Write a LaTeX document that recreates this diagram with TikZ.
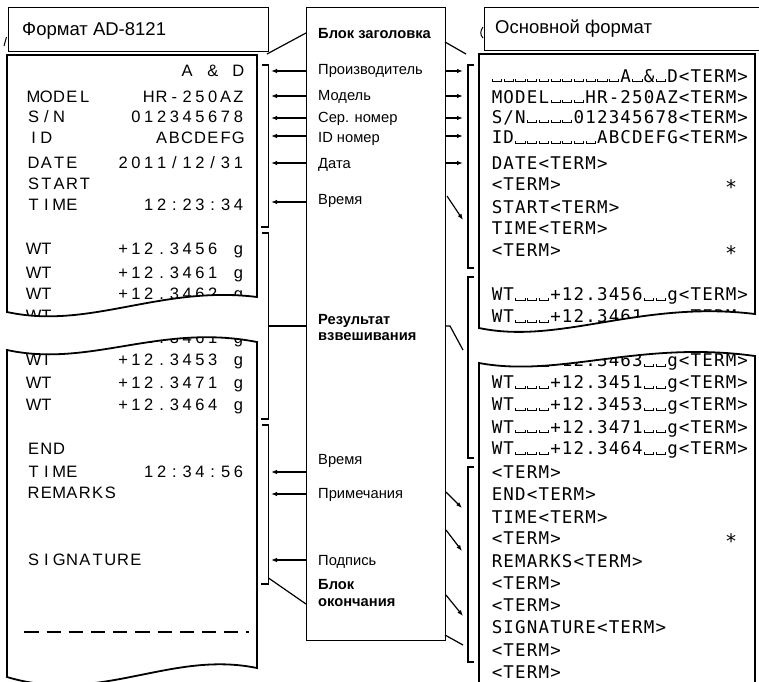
\documentclass[tikz,border=0pt]{standalone}
\usepackage{fontspec}
\setmainfont{Liberation Sans}
\newfontfamily\rmono{DejaVu Sans Mono}
\usetikzlibrary{arrows.meta}
\newdimen\cw
\def\cellstop{CELLSTOP}
\def\cells#1{\cellloop#1\cellstop}
\def\cellloop#1{\ifx#1\cellstop\else\onecell#1\expandafter\cellloop\fi}
\def\onecell#1{\ifx#1!\hbox to\cw{\hfil}\else\ifx#1_\spmark\else\hbox to\cw{\hss#1\hss}\fi\fi}
\def\spmark{\hbox to\cw{\hss\vrule width .8pt height 3pt depth 0pt\vrule width 8.4pt height .8pt depth 0pt\vrule width .8pt height 3pt depth 0pt\hss}}
\def\bigast{\raisebox{-4.4pt}{\fontsize{20}{20}\selectfont*}}
\newcommand\Lrow[1]{\cw=12.8pt\cells{#1}}
\newcommand\Rrow[1]{\cw=11.7pt\cells{#1}}
\begin{document}
\begin{tikzpicture}[x=1pt,y=-1pt,
  box/.style={draw, line width=1.3pt, inner sep=0, anchor=north west},
  paper/.style={line width=1.8pt, line join=miter},
  brk/.style={line width=1.8pt},
  conn/.style={line width=1.2pt},
  arr/.style={line width=1.2pt, -{Latex[length=6pt,width=4.5pt]}},
  lbl/.style={anchor=base west, inner sep=0, font=\fontsize{14.7}{17}\selectfont},
  blbl/.style={anchor=base west, inner sep=0, font=\fontsize{14.7}{17}\selectfont\bfseries},
  ltxt/.style={anchor=base west, inner sep=0, font=\fontsize{16.5}{16.5}\selectfont},
  rtxt/.style={anchor=base west, inner sep=0, font=\rmono\fontsize{17.5}{17.5}\selectfont},
  ttl/.style={anchor=base west, inner sep=0, font=\fontsize{18.5}{20}\selectfont}]
\useasboundingbox (0,0) rectangle (759,681);

% title boxes
\node[box, minimum width=260pt, minimum height=44pt] (tL) at (8,7) {};
\node[ttl] (tLt) at (22,35.5) {Формат AD-8121};
\node[box, minimum width=280pt, minimum height=43pt] (tR) at (484,7) {};
\node[ttl] (tRt) at (495,33.5) {Основной формат};
\draw[line width=1pt] (4,46) -- (6.5,37);
\draw[line width=1pt] (483,27) .. controls (480,31) and (480,35) .. (483,38);

% middle box
\node[box, minimum width=139pt, minimum height=633pt] (mid) at (306,7) {};
\node[blbl] (m1) at (318,38) {Блок заголовка};
\node[lbl] (m2) at (318,74.5) {Производитель};
\node[lbl] (m3) at (318,100.5) {Модель};
\node[lbl] (m4) at (318,122.5) {Сер. номер};
\node[lbl] (m5) at (318,142.5) {ID номер};
\node[lbl] (m6) at (318,168.5) {Дата};
\node[lbl] (m7) at (318,204.5) {Время};
\node[blbl] (m8) at (318,324.5) {Результат};
\node[blbl] (m9) at (318,340.5) {взвешивания};
\node[lbl] (m10) at (318,464.5) {Время};
\node[lbl] (m11) at (318,498.5) {Примечания};
\node[lbl] (m12) at (318,565.5) {Подпись};
\node[blbl] (m13) at (318,589.5) {Блок};
\node[blbl] (m14) at (318,606.5) {окончания};

% left paper
\draw[paper] (7,55) -- (257,55) -- (257,297) .. controls (160,285) and (90,330) .. (7,312) -- cycle;
\draw[paper] (7,350) .. controls (90,368) and (160,323) .. (257,342) -- (257,668) .. controls (170,650) and (100,705) .. (7,677) -- cycle;
\begin{scope}
\clip (7,55) -- (257,55) -- (257,297) .. controls (160,285) and (90,330) .. (7,312) -- cycle;
\node[ltxt] (l1) at (27,76.7) {\Lrow{!!!!!!!!!!!!A!\&!D}};
\node[ltxt] (l2) at (27,102.5) {\Lrow{MODEL!!!!HR-250AZ}};
\node[ltxt] (l3) at (27,122.5) {\Lrow{S/N!!!!!012345678}};
\node[ltxt] (l4) at (27,143.7) {\Lrow{ID!!!!!!!!ABCDEFG}};
\node[ltxt] (l5) at (27,168.5) {\Lrow{DATE!!!2011/12/31}};
\node[ltxt] (l6) at (27,189) {\Lrow{START}};
\node[ltxt] (l7) at (27,210.7) {\Lrow{TIME!!!!!12:23:34}};
\node[ltxt] (l8) at (27,254) {\Lrow{WT!!!!!+12.3456!g}};
\node[ltxt] (l9) at (27,278.4) {\Lrow{WT!!!!!+12.3461!g}};
\node[ltxt] (l10) at (27,299) {\Lrow{WT!!!!!+12.3462!g}};
\node[ltxt] (l11) at (27,321) {\Lrow{WT}};
\end{scope}
\begin{scope}
\clip (7,350) .. controls (90,368) and (160,323) .. (257,342) -- (257,668) .. controls (170,650) and (100,705) .. (7,677) -- cycle;
\node[ltxt] (l12) at (27,343.7) {\Lrow{WT!!!!!+12.3461!g}};
\node[ltxt] (l13) at (27,365.7) {\Lrow{WT!!!!!+12.3453!g}};
\node[ltxt] (l14) at (27,388.7) {\Lrow{WT!!!!!+12.3471!g}};
\node[ltxt] (l15) at (27,410.7) {\Lrow{WT!!!!!+12.3464!g}};
\node[ltxt] (l16) at (27,454.7) {\Lrow{END}};
\node[ltxt] (l17) at (27,477.7) {\Lrow{TIME!!!!!12:34:56}};
\node[ltxt] (l18) at (27,498.7) {\Lrow{REMARKS}};
\node[ltxt] (l19) at (27,565.7) {\Lrow{SIGNATURE}};
\end{scope}
\draw[line width=1.3pt, dash pattern=on 14.3pt off 7.9pt] (24.3,632) -- (248.5,632);

% right paper
\draw[paper] (479,54) -- (755,54) -- (755,314) .. controls (640,300) and (560,345) .. (479,328) -- cycle;
\draw[paper] (479,363) .. controls (560,378) and (640,340) .. (755,356) -- (755,695) -- (479,695) -- cycle;
\begin{scope}
\clip (479,54) -- (755,54) -- (755,314) .. controls (640,300) and (560,345) .. (479,328) -- cycle;
\node[rtxt] (r1) at (491,82) {\Rrow{___________A_\&_D<TERM>}};
\node[rtxt] (r2) at (491,103) {\Rrow{MODEL___HR-250AZ<TERM>}};
\node[rtxt] (r3) at (491,123) {\Rrow{S/N____012345678<TERM>}};
\node[rtxt] (r4) at (491,143.5) {\Rrow{ID_______ABCDEFG<TERM>}};
\node[rtxt] (r5) at (491,169) {\Rrow{DATE<TERM>}};
\node[rtxt] (r6) at (491,190.5) {\Rrow{<TERM>!!!!!!!!!!!!!!\bigast}};
\node[rtxt] (r7) at (491,213) {\Rrow{START<TERM>}};
\node[rtxt] (r8) at (491,234.5) {\Rrow{TIME<TERM>}};
\node[rtxt] (r9) at (491,256.5) {\Rrow{<TERM>!!!!!!!!!!!!!!\bigast}};
\node[rtxt] (r10) at (491,300.5) {\Rrow{WT___+12.3456__g<TERM>}};
\node[rtxt] (r11) at (491,322.5) {\Rrow{WT___+12.3461__g<TERM>}};
\node[rtxt] (r12) at (491,344.5) {\Rrow{WT___+12.3462__g<TERM>}};
\end{scope}
\begin{scope}
\clip (479,363) .. controls (560,378) and (640,340) .. (755,356) -- (755,695) -- (479,695) -- cycle;
\node[rtxt] (r13) at (491,366.5) {\Rrow{WT___+12.3463__g<TERM>}};
\node[rtxt] (r14) at (491,388.5) {\Rrow{WT___+12.3451__g<TERM>}};
\node[rtxt] (r15) at (491,410.5) {\Rrow{WT___+12.3453__g<TERM>}};
\node[rtxt] (r16) at (491,433) {\Rrow{WT___+12.3471__g<TERM>}};
\node[rtxt] (r17) at (491,454.5) {\Rrow{WT___+12.3464__g<TERM>}};
\node[rtxt] (r18) at (491,478) {\Rrow{<TERM>}};
\node[rtxt] (r19) at (491,500) {\Rrow{END<TERM>}};
\node[rtxt] (r20) at (491,523) {\Rrow{TIME<TERM>}};
\node[rtxt] (r21) at (491,544.5) {\Rrow{<TERM>!!!!!!!!!!!!!!\bigast}};
\node[rtxt] (r22) at (491,567) {\Rrow{REMARKS<TERM>}};
\node[rtxt] (r23) at (491,589) {\Rrow{<TERM>}};
\node[rtxt] (r24) at (491,611) {\Rrow{<TERM>}};
\node[rtxt] (r25) at (491,633.5) {\Rrow{SIGNATURE<TERM>}};
\node[rtxt] (r26) at (491,656) {\Rrow{<TERM>}};
\node[rtxt] (r27) at (491,678) {\Rrow{<TERM>}};
\end{scope}

% brackets left
\draw[brk] (262,65) -- (268.5,65) -- (268.5,227) -- (261,227);
\draw[brk] (262,233) -- (268.5,233) -- (268.5,419) -- (261,419);
\draw[brk] (262,425) -- (268.5,425) -- (268.5,584) -- (261,584);
% brackets right
\draw[brk] (474,65) -- (468,65) -- (468,268) -- (474,268);
\draw[brk] (474,277) -- (468,277) -- (468,458) -- (474,458);
\draw[brk] (474,467) -- (468,467) -- (468,662) -- (474,662);

% connectors
\coordinate (hL1) at (306,33); \coordinate (hL2) at (267,54);
\draw[conn] (hL1) -- (hL2);
\coordinate (hR1) at (445,42); \coordinate (hR2) at (466,54);
\draw[conn] (hR1) -- (hR2);
\coordinate (wL1) at (268.5,326); \coordinate (wL2) at (306,326);
\draw[conn] (wL1) -- (wL2);
\coordinate (wR1) at (445,326); \coordinate (wR2) at (450,326); \coordinate (wR3) at (463,350);
\draw[conn] (wR1) -- (wR2) -- (wR3);
\coordinate (fL1) at (268.5,578); \coordinate (fL2) at (306,604);
\draw[conn] (fL1) -- (fL2);
\coordinate (fR1) at (445,635); \coordinate (fR2) at (463,645);
\draw[conn] (fR1) -- (fR2);

% arrows
\foreach \y [count=\i] in {71,96,118,136,163,202,472,494,560}{
  \coordinate (la\i) at (306,\y); \coordinate (lb\i) at (271,\y);
  \draw[arr] (la\i) -- (lb\i);}
\foreach \y [count=\i] in {71,96,118,136,163}{
  \coordinate (ra\i) at (445,\y); \coordinate (rb\i) at (463,\y);
  \draw[arr] (ra\i) -- (rb\i);}
\coordinate (sa1) at (447,196); \coordinate (sb1) at (463,220);
\coordinate (sa2) at (446,492); \coordinate (sb2) at (462,508);
\coordinate (sa3) at (446,530); \coordinate (sb3) at (462,551);
\coordinate (sa4) at (446,595); \coordinate (sb4) at (463,616);
\foreach \i in {1,2,3,4}{\draw[arr] (sa\i) -- (sb\i);}
\end{tikzpicture}
\end{document}
